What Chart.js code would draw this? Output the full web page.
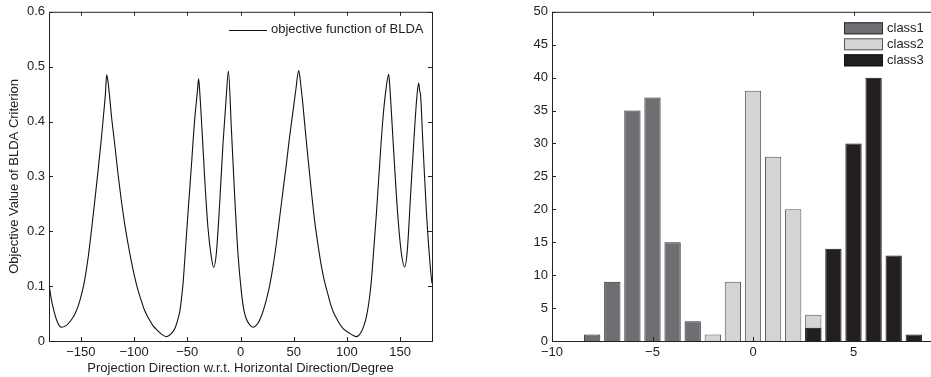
<!DOCTYPE html>
<html>
<head>
<meta charset="utf-8">
<script src="https://cdn.jsdelivr.net/npm/chart.js@4.4.1/dist/chart.umd.min.js"></script>
<style>
  html, body { margin: 0; padding: 0; background: #fff; overflow: hidden; }
  .panel { position: absolute; top: 0; height: 377px; }
  #leftPanel { left: 0; width: 460px; }
  #rightPanel { left: 470px; width: 500px; }
</style>
</head>
<body>
<div class="panel" id="leftPanel"><canvas id="bldaChart" width="460" height="377"></canvas></div>
<div class="panel" id="rightPanel"><canvas id="histChart" width="500" height="377"></canvas></div>
<script>
// objective of BLDA vs projection direction (degrees)
const angles = [
  -180, -178, -175, -172, -168.4, -164, -160, -156, -152.7, -149, -146.4, -143,
  -140.2, -137, -133.9, -131, -129.2, -127, -125.8, -124.5, -123, -121.4, -118,
  -115.1, -112, -108.9, -105.5, -102.6, -99.5, -96.4, -93, -90, -86, -82.3, -78,
  -74, -69.7, -66.5, -63.5, -61, -58.8, -57, -55.6, -54, -52.5, -49.4, -46.2,
  -43.1, -40.5, -39.4, -38.6, -36.8, -33.7, -30.6, -27.4, -25.2, -22.7, -19.6,
  -16.5, -13.3, -11.4, -8.6, -5.5, -2.4, 0.8, 3, 5.5, 8.5, 11.7, 15, 18, 21,
  24.3, 27.5, 30.5, 33.5, 36.8, 40, 43.1, 46, 49.3, 52, 54.7, 56, 58.7, 61,
  63.4, 66.5, 69.7, 73, 76, 79, 82.2, 85, 87.9, 90.1, 93, 96.3, 99.5, 102.6,
  106, 108.9, 111, 113.6, 116, 118.3, 120, 121.4, 123, 124.5, 127.7, 130.8,
  133.9, 136.5, 139.3, 140.3, 141.8, 144.9, 148, 151.2, 154.3, 156.8, 159.9,
  163.1, 165.9, 167.5, 168.5, 169.1, 171.5, 174.7, 178.7, 180
];
const objective = [
  0.105, 0.078, 0.052, 0.034, 0.025, 0.028, 0.036, 0.048, 0.063, 0.088, 0.112, 0.155,
  0.200, 0.255, 0.310, 0.365, 0.402, 0.450, 0.485, 0.472, 0.445, 0.412, 0.355,
  0.304, 0.256, 0.214, 0.175, 0.145, 0.117, 0.093, 0.072, 0.055, 0.040, 0.028, 0.019,
  0.012, 0.008, 0.011, 0.017, 0.026, 0.040, 0.055, 0.075, 0.105, 0.145, 0.232, 0.318,
  0.403, 0.455, 0.478, 0.462, 0.406, 0.298, 0.207, 0.153, 0.134, 0.160, 0.250,
  0.358, 0.448, 0.492, 0.388, 0.265, 0.160, 0.090, 0.058, 0.040, 0.030, 0.025, 0.029, 0.038, 0.053,
  0.075, 0.102, 0.135, 0.175, 0.225, 0.275, 0.322, 0.370, 0.418, 0.458, 0.493, 0.478, 0.430, 0.382,
  0.334, 0.275, 0.219, 0.173, 0.137, 0.108, 0.085, 0.065, 0.050, 0.042, 0.032, 0.023, 0.018, 0.014,
  0.010, 0.008, 0.010, 0.017, 0.028, 0.044, 0.062, 0.081, 0.110, 0.147, 0.231, 0.322,
  0.406, 0.455, 0.486, 0.465, 0.418, 0.316, 0.225, 0.160, 0.135, 0.165, 0.267,
  0.370, 0.448, 0.470, 0.455, 0.451, 0.358, 0.237, 0.128, 0.105
];
const angleTicks = [-150, -100, -50, 0, 50, 100, 150];
const objectiveTicks = [0, 0.1, 0.2, 0.3, 0.4, 0.5, 0.6];

// histogram of projected samples
const class1Bins = [-8, -7, -6, -5, -4, -3];
const class1Counts = [1, 9, 35, 37, 15, 3];
const class2Bins = [-2, -1, 0, 1, 2, 3];
const class2Counts = [1, 9, 38, 28, 20, 4];
const class3Bins = [3, 4, 5, 6, 7, 8];
const class3Counts = [2, 14, 30, 40, 13, 1];
const histTicks = [-10, -5, 0, 5, 10];
const countTicks = [0, 5, 10, 15, 20, 25, 30, 35, 40, 45, 50];

const FONT = 'Liberation Sans, Arial, Helvetica, sans-serif';
const FSIZE = 13;
const INK = '#222';

const minus = v => String(v).replace('-', '\u2212');
const points = (xs, ys) => xs.map((x, i) => ({ x: x, y: ys[i] }));
const fixedTicks = list => scale => { scale.ticks = list.map(v => ({ value: v })); };

// matlab-style box with inward tick marks on all four sides
const boxAxes = {
  id: 'boxAxes',
  afterDraw(chart) {
    const { ctx, chartArea: a, scales } = chart;
    const len = 4;
    ctx.save();
    ctx.strokeStyle = INK;
    ctx.lineWidth = 1;
    ctx.beginPath();
    scales.x.ticks.forEach(t => {
      const px = Math.round(scales.x.getPixelForValue(t.value)) + 0.5;
      ctx.moveTo(px, a.bottom); ctx.lineTo(px, a.bottom - len);
      ctx.moveTo(px, a.top); ctx.lineTo(px, a.top + len);
    });
    scales.y.ticks.forEach(t => {
      const py = Math.round(scales.y.getPixelForValue(t.value)) + 0.5;
      ctx.moveTo(a.left, py); ctx.lineTo(a.left + len, py);
      ctx.moveTo(a.right, py); ctx.lineTo(a.right - len, py);
    });
    ctx.stroke();
    ctx.strokeRect(a.left + 0.5, a.top + 0.5, a.right - a.left, a.bottom - a.top);
    ctx.restore();
  }
};

// small legend drawn inside the plot box
const innerLegend = {
  id: 'innerLegend',
  afterDraw(chart, args, opts) {
    const { ctx, chartArea: a } = chart;
    ctx.save();
    ctx.font = FSIZE + 'px ' + FONT;
    ctx.textBaseline = 'middle';
    chart.data.datasets.forEach((ds, i) => {
      const x = a.left + opts.left;
      const y = a.top + opts.top + i * opts.row;
      if (opts.kind === 'line') {
        ctx.strokeStyle = ds.borderColor;
        ctx.lineWidth = 1;
        ctx.beginPath();
        ctx.moveTo(x, Math.round(y) + 0.5);
        ctx.lineTo(x + opts.sample, Math.round(y) + 0.5);
        ctx.stroke();
      } else {
        ctx.fillStyle = ds.backgroundColor;
        ctx.fillRect(x, y - 6, opts.sample, 12);
        ctx.strokeStyle = ds.borderColor;
        ctx.lineWidth = 1;
        ctx.strokeRect(x + 0.5, y - 5.5, opts.sample - 1, 11);
      }
      ctx.fillStyle = INK;
      ctx.fillText(ds.label, x + opts.sample + 4, y);
    });
    ctx.restore();
  }
};

const tickFont = { family: FONT, size: FSIZE };

new Chart(document.getElementById('bldaChart').getContext('2d'), {
  type: 'scatter',
  data: {
    datasets: [{
      label: 'objective function of BLDA',
      data: points(angles, objective),
      showLine: true,
      borderColor: '#111',
      borderWidth: 1.1,
      pointRadius: 0,
      cubicInterpolationMode: 'monotone'
    }]
  },
  options: {
    responsive: false,
    animation: false,
    devicePixelRatio: 1,
    layout: { padding: { top: 9, right: 28, bottom: 0, left: 0 } },
    scales: {
      x: {
        type: 'linear',
        min: -180,
        max: 180,
        afterBuildTicks: fixedTicks(angleTicks),
        afterFit: s => { s.height = 36; },
        grid: { display: false, drawTicks: false },
        border: { display: false },
        ticks: { color: INK, padding: 4, font: tickFont, callback: minus },
        title: {
          display: true,
          text: 'Projection Direction w.r.t. Horizontal Direction/Degree',
          color: INK,
          font: tickFont,
          padding: { top: 0, bottom: 1 }
        }
      },
      y: {
        min: 0,
        max: 0.6,
        afterBuildTicks: fixedTicks(objectiveTicks),
        afterFit: s => { s.width = 49; },
        grid: { display: false, drawTicks: false },
        border: { display: false },
        ticks: { color: INK, padding: 4, font: tickFont, callback: minus },
        title: {
          display: true,
          text: 'Objective Value of BLDA Criterion',
          color: INK,
          font: tickFont,
          padding: { top: 7, bottom: 0 }
        }
      }
    },
    plugins: {
      legend: { display: false },
      tooltip: { enabled: false },
      innerLegend: { kind: 'line', left: 180, top: 18, row: 16, sample: 38 }
    }
  },
  plugins: [boxAxes, innerLegend]
});

const barStyle = { grouped: false, categoryPercentage: 1, barPercentage: 0.81, borderWidth: 1 };

new Chart(document.getElementById('histChart').getContext('2d'), {
  type: 'bar',
  data: {
    datasets: [
      Object.assign({ label: 'class1', data: points(class1Bins, class1Counts),
        backgroundColor: '#6e6f73', borderColor: '#2b2b2d', order: 3 }, barStyle),
      Object.assign({ label: 'class2', data: points(class2Bins, class2Counts),
        backgroundColor: '#d3d4d6', borderColor: '#555', order: 2 }, barStyle),
      Object.assign({ label: 'class3', data: points(class3Bins, class3Counts),
        backgroundColor: '#231f20', borderColor: '#111', order: 1 }, barStyle)
    ]
  },
  options: {
    responsive: false,
    animation: false,
    devicePixelRatio: 1,
    layout: { padding: { top: 9, right: 16, bottom: 0, left: 0 } },
    scales: {
      x: {
        type: 'linear',
        min: -10,
        max: 10,
        offset: false,
        afterBuildTicks: fixedTicks(histTicks),
        afterFit: s => { s.height = 36; },
        grid: { display: false, drawTicks: false },
        border: { display: false },
        ticks: { color: INK, padding: 4, font: tickFont, callback: minus }
      },
      y: {
        min: 0,
        max: 50,
        afterBuildTicks: fixedTicks(countTicks),
        afterFit: s => { s.width = 82; },
        grid: { display: false, drawTicks: false },
        border: { display: false },
        ticks: { color: INK, padding: 4, font: tickFont }
      }
    },
    plugins: {
      legend: { display: false },
      tooltip: { enabled: false },
      innerLegend: { kind: 'box', left: 292, top: 16.5, row: 16, sample: 39 }
    }
  },
  plugins: [boxAxes, innerLegend]
});
</script>
</body>
</html>
